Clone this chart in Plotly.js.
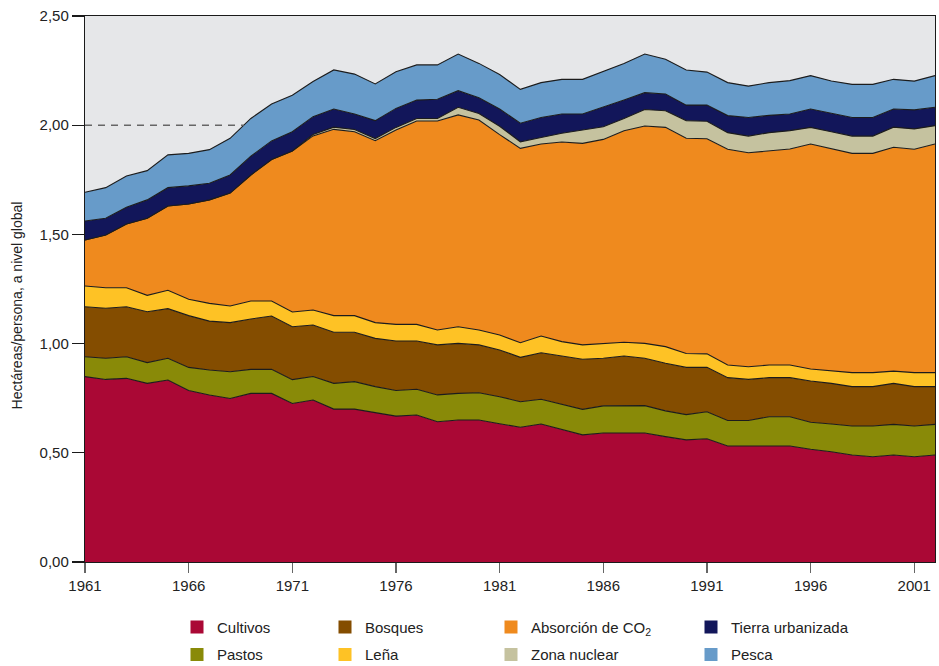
<!DOCTYPE html>
<html>
<head>
<meta charset="utf-8">
<script src="https://cdn.plot.ly/plotly-3.0.1.min.js"></script>
<style>html,body{margin:0;padding:0;background:#fff;}#chart{width:939px;height:666px;}</style>
</head>
<body>
<div id="chart"></div>
<script>
const years = [1961,1962,1963,1964,1965,1966,1967,1968,1969,1970,
  1971,1972,1973,1974,1975,1976,1977,1978,1979,1980,
  1981,1982,1983,1984,1985,1986,1987,1988,1989,1990,
  1991,1992,1993,1994,1995,1996,1997,1998,1999,2000,
  2001,2002];

const cultivos = [0.849,0.836,0.841,0.818,0.833,0.785,0.765,0.749,0.772,0.772,
  0.726,0.742,0.700,0.700,0.684,0.668,0.673,0.642,0.650,0.650,
  0.633,0.617,0.632,0.607,0.582,0.591,0.591,0.591,0.574,0.559,
  0.564,0.531,0.531,0.531,0.531,0.516,0.505,0.490,0.482,0.490,
  0.482,0.490];
const pastos = [0.091,0.097,0.099,0.095,0.100,0.106,0.114,0.122,0.110,0.110,
  0.109,0.107,0.118,0.126,0.119,0.117,0.118,0.123,0.122,0.125,
  0.124,0.117,0.113,0.114,0.117,0.124,0.125,0.125,0.118,0.116,
  0.124,0.117,0.117,0.134,0.134,0.124,0.127,0.133,0.141,0.140,
  0.141,0.140];
const bosques = [0.229,0.229,0.229,0.233,0.227,0.237,0.224,0.225,0.231,0.244,
  0.242,0.236,0.234,0.226,0.221,0.227,0.221,0.229,0.229,0.219,
  0.214,0.203,0.213,0.222,0.229,0.218,0.227,0.217,0.218,0.216,
  0.204,0.196,0.188,0.179,0.179,0.189,0.186,0.180,0.180,0.188,
  0.180,0.173];
const lena = [0.095,0.094,0.087,0.075,0.084,0.075,0.081,0.076,0.082,0.069,
  0.068,0.069,0.076,0.076,0.072,0.076,0.076,0.068,0.076,0.068,
  0.068,0.067,0.077,0.066,0.066,0.068,0.063,0.068,0.076,0.064,
  0.061,0.058,0.058,0.058,0.058,0.055,0.058,0.064,0.064,0.056,
  0.064,0.064];
const absorcionCO2 = [0.210,0.241,0.292,0.353,0.386,0.436,0.474,0.517,0.577,0.648,
  0.737,0.797,0.853,0.842,0.833,0.890,0.931,0.957,0.970,0.962,
  0.918,0.890,0.879,0.914,0.923,0.934,0.969,0.995,1.004,0.985,
  0.985,0.988,0.980,0.980,0.989,1.030,1.015,1.004,1.004,1.025,
  1.023,1.047];
const zonaNuclear = [0,0,0,0,0,0,0,0,0,0,
  0,0.006,0.010,0.010,0.010,0.012,0.012,0.012,0.035,0.030,
  0.038,0.030,0.030,0.040,0.061,0.058,0.056,0.076,0.076,0.081,
  0.080,0.076,0.076,0.084,0.084,0.076,0.079,0.079,0.079,0.092,
  0.093,0.084];
const tierraUrbanizada = [0.087,0.077,0.076,0.084,0.084,0.083,0.076,0.083,0.086,0.085,
  0.088,0.082,0.083,0.071,0.082,0.087,0.084,0.088,0.076,0.072,
  0.079,0.085,0.091,0.088,0.073,0.089,0.084,0.077,0.077,0.071,
  0.074,0.078,0.085,0.079,0.076,0.084,0.084,0.085,0.085,0.083,
  0.087,0.084];
const pesca = [0.132,0.140,0.143,0.134,0.150,0.149,0.154,0.168,0.173,0.169,
  0.167,0.161,0.179,0.183,0.168,0.168,0.161,0.157,0.168,0.157,
  0.158,0.155,0.160,0.159,0.159,0.163,0.168,0.177,0.159,0.161,
  0.151,0.151,0.144,0.150,0.153,0.153,0.148,0.152,0.152,0.136,
  0.132,0.145];

const xTickYears = [1961,1966,1971,1976,1981,1986,1991,1996,2001];
const yTickValues = [0,0.5,1,1.5,2,2.5];
const referenceLevel = 2.0;
const yAxisTitle = 'Hectáreas/persona, a nivel global';

// stacking order (bottom to top)
const series = [
  {name:'Cultivos', values:cultivos, color:'#aa0835', legend:'legend', rank:1},
  {name:'Pastos', values:pastos, color:'#898a08', legend:'legend', rank:2},
  {name:'Bosques', values:bosques, color:'#844d00', legend:'legend2', rank:1},
  {name:'Leña', values:lena, color:'#fec225', legend:'legend2', rank:2},
  {name:'Absorción de CO<sub>2</sub>', values:absorcionCO2, color:'#ef8a1e', legend:'legend3', rank:1},
  {name:'Zona nuclear', values:zonaNuclear, color:'#c5c29f', legend:'legend3', rank:2},
  {name:'Tierra urbanizada', values:tierraUrbanizada, color:'#12165a', legend:'legend4', rank:1},
  {name:'Pesca', values:pesca, color:'#679bc9', legend:'legend4', rank:2}
];

const traces = [];
series.forEach(s => {
  traces.push({
    type:'scatter', mode:'lines', x:years, y:s.values, name:s.name,
    stackgroup:'one', fillcolor:s.color,
    line:{color:'#1c1c1c', width:1.1, shape:'linear'},
    showlegend:false, hoverinfo:'skip'
  });
});

// reference dashed line from start until the stack total reaches it
const totals = years.map((_, i) => series.reduce((a, s) => a + s.values[i], 0));
let crossX = years[years.length - 1];
for (let i = 1; i < totals.length; i++) {
  if (totals[i] >= referenceLevel && totals[i-1] < referenceLevel) {
    const t = (referenceLevel - totals[i-1]) / (totals[i] - totals[i-1]);
    crossX = years[i-1] + t * (years[i] - years[i-1]);
    break;
  }
}
traces.push({
  type:'scatter', mode:'lines', x:[years[0], crossX], y:[referenceLevel, referenceLevel],
  line:{color:'#666666', width:1.5, dash:'7px,6px'}, showlegend:false, hoverinfo:'skip'
});

// legend entries (square swatches)
series.forEach((s, k) => {
  traces.push({
    type:'scatter', mode:'markers', x:[null], y:[null], name:s.name,
    marker:{symbol:'square', size:13, color:s.color, line:{width:0}},
    legend:s.legend, legendrank:s.rank, legendgroup:'g'+k, showlegend:true, hoverinfo:'skip'
  });
});

const legendFont = {family:'"Liberation Sans", Arial, sans-serif', size:15, color:'#222'};
function legendAt(xc) {
  return {x:xc, xref:'container', y:0.083, yref:'container', xanchor:'left', yanchor:'top',
    orientation:'v', font:legendFont, bgcolor:'rgba(0,0,0,0)', borderwidth:0,
    tracegroupgap:5, itemsizing:'trace', itemclick:false, itemdoubleclick:false, traceorder:'grouped'};
}

const layout = {
  width:939, height:666,
  margin:{l:85, r:4, t:16, b:104, autoexpand:false},
  paper_bgcolor:'#ffffff', plot_bgcolor:'#e6e7e9',
  separators:',.',
  font:{family:'"Liberation Sans", Arial, sans-serif', size:15, color:'#222'},
  showlegend:true,
  xaxis:{
    range:[years[0], years[years.length-1]], tickvals:xTickYears, ticktext:xTickYears.map(String),
    ticks:'outside', ticklen:10, tickwidth:1.2, tickcolor:'#666',
    showline:true, linecolor:'#1a1a1a', linewidth:1.2, mirror:true,
    showgrid:false, zeroline:false, tickfont:{size:15, color:'#222'}, fixedrange:true,
    automargin:false
  },
  yaxis:{
    range:[0, 2.5], tickvals:yTickValues, tickformat:'.2f',
    ticks:'outside', ticklen:12, tickwidth:1.2, tickcolor:'#1a1a1a',
    showline:true, linecolor:'#1a1a1a', linewidth:1.2, mirror:true,
    showgrid:false, zeroline:false, tickfont:{size:15, color:'#222'},
    fixedrange:true, automargin:false
  },
  annotations:[{
    text:yAxisTitle, textangle:-90, showarrow:false,
    xref:'paper', yref:'paper', x:-(85-17)/850, y:0.47, xanchor:'center', yanchor:'middle',
    font:{family:'"Liberation Sans", Arial, sans-serif', size:14, color:'#222'}
  }],
  legend:legendAt(177/939),
  legend2:legendAt(325/939),
  legend3:legendAt(491/939),
  legend4:legendAt(691/939)
};

Plotly.newPlot('chart', traces, layout, {displayModeBar:false, staticPlot:true});
</script>
</body>
</html>
